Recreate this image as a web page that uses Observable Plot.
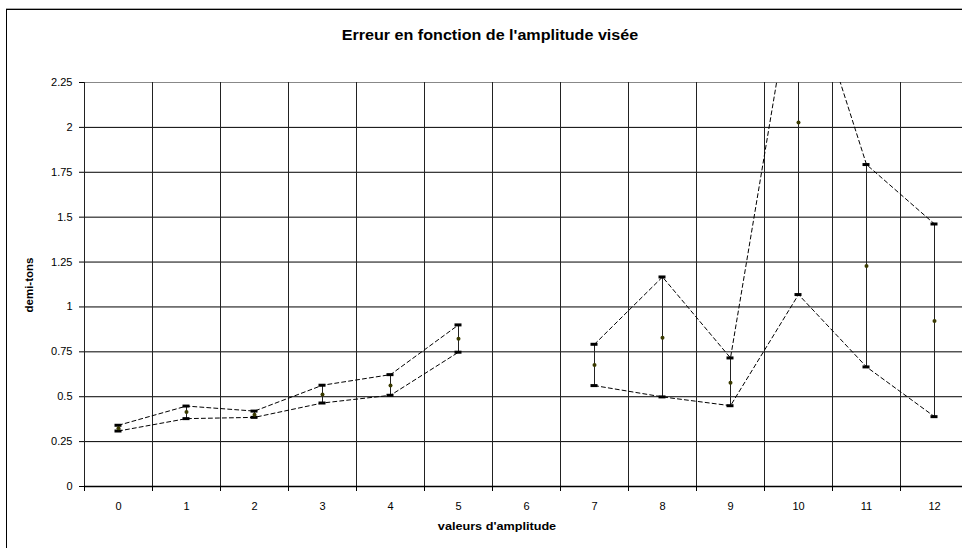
<!DOCTYPE html>
<html><head><meta charset="utf-8">
<script src="https://cdn.jsdelivr.net/npm/d3@7"></script>
<script src="https://cdn.jsdelivr.net/npm/@observablehq/plot@0.6"></script>
<style>
html,body{margin:0;padding:0;background:#fff;overflow:hidden;width:962px;height:548px}
#wrap{position:relative;width:962px;height:548px;overflow:hidden;font-family:"Liberation Sans",Arial,sans-serif;background:#fff;color:#000}
#chart{position:absolute;left:0;top:0;width:962px;height:548px;overflow:hidden}
#chart svg{max-width:none;overflow:hidden}
#frame{position:absolute;left:6px;top:9px;width:956px;height:539px;border-left:1px solid #000;border-top:1px solid #000;box-shadow:0 -1px 0 #aaa}
#title{position:absolute;left:0;width:962px;top:28px;text-align:center;font-weight:bold;font-size:14px;line-height:14px;transform:translateX(9px) scaleX(1.15);transform-origin:481px 0;white-space:nowrap}
#xtitle{position:absolute;left:0;width:962px;top:521px;text-align:center;font-weight:bold;font-size:11px;line-height:11px;transform:translateX(16px) scaleX(1.15);transform-origin:481px 0;white-space:nowrap}
#ytitle{position:absolute;left:29.5px;top:285px;font-weight:bold;font-size:11.5px;line-height:11.5px;white-space:nowrap;transform:translate(-50%,-50%) rotate(-90deg)}
</style></head><body>
<div id="wrap">
  <div id="chart"></div>
  <div id="frame"></div>
  <div id="title">Erreur en fonction de l'amplitude visée</div>
  <div id="xtitle">valeurs d'amplitude</div>
  <div id="ytitle">demi-tons</div>
</div>
<script>
const categories = [0, 1, 2, 3, 4, 5, 6, 7, 8, 9, 10, 11, 12];
const meanValues  = [0.324, 0.415, 0.400, 0.513, 0.562, 0.823, null, 0.677, 0.829, 0.578, 2.027, 1.228, 0.922];
const upperValues = [0.341, 0.448, 0.420, 0.564, 0.623, 0.900, null, 0.792, 1.167, 0.716, 2.980, 1.793, 1.462];
const lowerValues = [0.309, 0.378, 0.385, 0.465, 0.508, 0.748, null, 0.562, 0.499, 0.450, 1.069, 0.666, 0.389];
const yTicks = [0, 0.25, 0.5, 0.75, 1, 1.25, 1.5, 1.75, 2, 2.25];

const rows = categories.map((c, i) => ({
  cat: c,
  mean: meanValues[i] == null ? NaN : meanValues[i],
  upper: upperValues[i] == null ? NaN : upperValues[i],
  lower: lowerValues[i] == null ? NaN : lowerValues[i]
}));
const defined = rows.filter(d => !isNaN(d.mean));
const edges = categories.map(c => c - 0.5).concat([categories[categories.length - 1] + 0.5]);
const innerGrid = yTicks.filter(v => v > 0 && v < 2.25);

const chart = Plot.plot({
  width: 962,
  height: 548,
  marginLeft: 84,
  marginRight: -6,
  marginTop: 82,
  marginBottom: 62,
  style: {fontFamily: "'Liberation Sans', Arial, sans-serif", fontSize: "11px", color: "#000", background: "transparent", overflow: "hidden"},
  x: {type: "linear", domain: [edges[0], edges[edges.length - 1]]},
  y: {domain: [0, 2.25]},
  marks: [
    Plot.ruleY(innerGrid, {stroke: "#000", strokeWidth: 1}),
    Plot.ruleY([2.25], {stroke: "#888", strokeWidth: 1}),
    Plot.ruleX(edges, {stroke: "#222", strokeWidth: 1}),
    Plot.ruleY([0], {stroke: "#000", strokeWidth: 1.5}),
    Plot.axisY({ticks: yTicks, tickSize: 5, tickPadding: 7, tickFormat: d => String(d), label: null}),
    Plot.axisX({ticks: categories, tickSize: 0, tickPadding: 16, tickFormat: d => String(d), label: null}),
    Plot.axisX({ticks: edges, tickSize: 5, tickFormat: () => "", label: null}),
    Plot.line(rows, {x: "cat", y: "upper", stroke: "#000", strokeWidth: 1, strokeDasharray: "4,3", clip: true}),
    Plot.line(rows, {x: "cat", y: "lower", stroke: "#000", strokeWidth: 1, strokeDasharray: "4,3", clip: true}),
    Plot.ruleX(defined, {x: "cat", y1: "lower", y2: "upper", stroke: "#222", strokeWidth: 1, clip: true}),
    Plot.ruleY(defined, {x1: "cat", x2: "cat", y: "upper", insetLeft: -3.5, insetRight: -3.5, stroke: "#000", strokeWidth: 3, clip: true}),
    Plot.ruleY(defined, {x1: "cat", x2: "cat", y: "lower", insetLeft: -3.5, insetRight: -3.5, stroke: "#000", strokeWidth: 3, clip: true}),
    Plot.dot(defined, {x: "cat", y: "mean", r: 2, fill: "#3a3a00", stroke: "none", clip: true})
  ]
});
document.getElementById("chart").appendChild(chart);
</script>
</body></html>
